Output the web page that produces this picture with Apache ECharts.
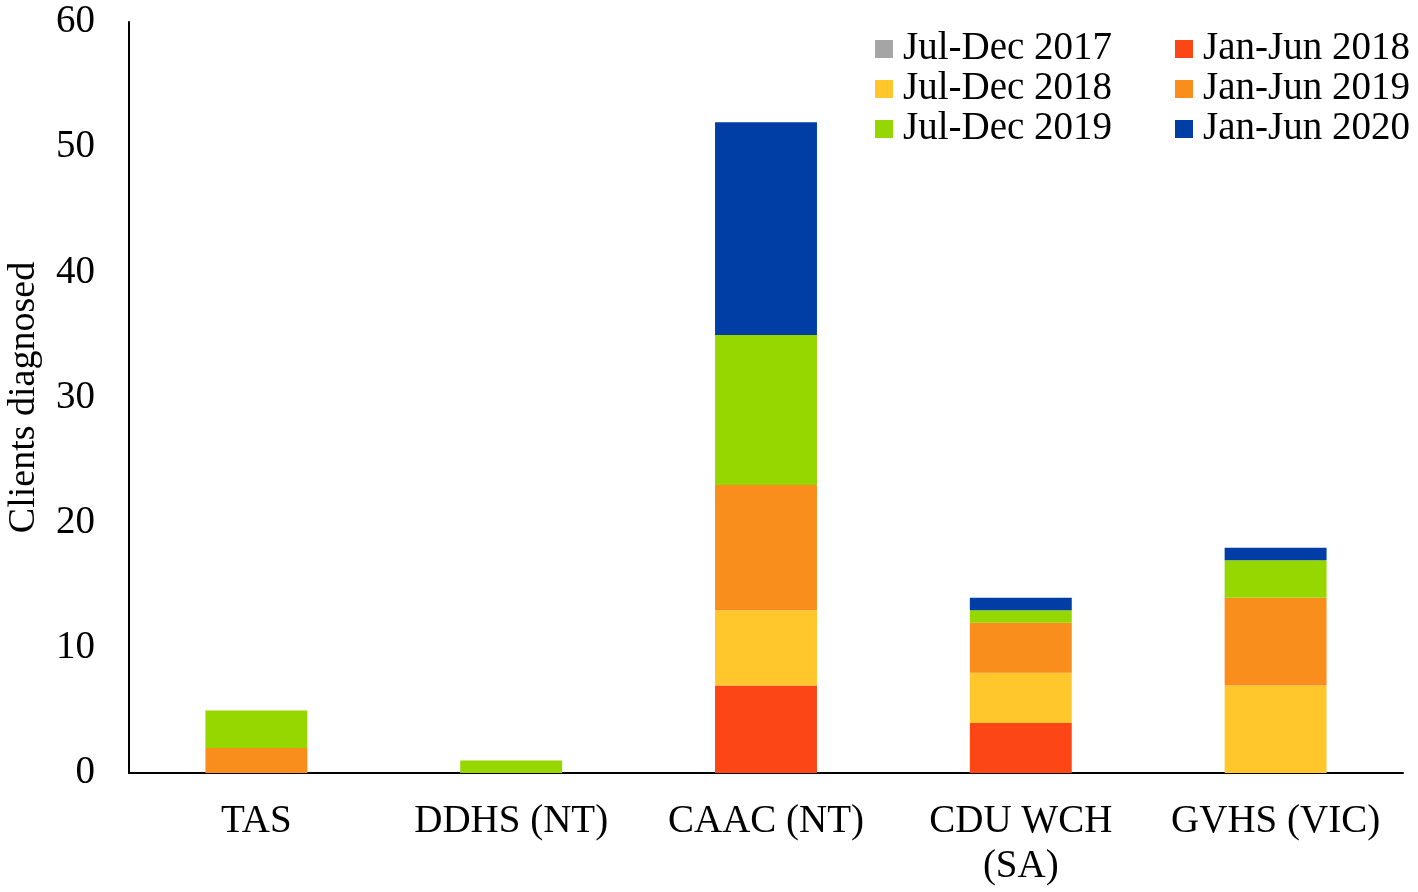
<!DOCTYPE html>
<html>
<head>
<meta charset="utf-8">
<script src="https://cdn.jsdelivr.net/npm/echarts@6/dist/echarts.min.js"></script>
<style>html,body{margin:0;padding:0;background:#fff}#c{width:1418px;height:892px}</style>
</head>
<body>
<div id="c"></div>
<script>
const categories = ['TAS', 'DDHS (NT)', 'CAAC (NT)', 'CDU WCH\n(SA)', 'GVHS (VIC)'];
const seriesNames = ['Jul-Dec 2017', 'Jan-Jun 2018', 'Jul-Dec 2018', 'Jan-Jun 2019', 'Jul-Dec 2019', 'Jan-Jun 2020'];
const julDec2017 = [0, 0, 0, 0, 0];
const janJun2018 = [0, 0, 7, 4, 0];
const julDec2018 = [0, 0, 6, 4, 7];
const janJun2019 = [2, 0, 10, 4, 7];
const julDec2019 = [3, 1, 12, 1, 3];
const janJun2020 = [0, 0, 17, 1, 1];
const yTicks = [0, 10, 20, 30, 40, 50, 60];

const values = [julDec2017, janJun2018, julDec2018, janJun2019, julDec2019, janJun2020];
const colors = ['#A5A5A5', '#FC4616', '#FFC72C', '#F98E1D', '#97D700', '#003DA5'];
const font = '"Liberation Serif", "Times New Roman", serif';

const legendText = { fontFamily: font, fontSize: 39, color: '#000', lineHeight: 40, padding: [0, 0, 0, 5] };

const chart = echarts.init(document.getElementById('c'));
chart.setOption({
  animation: false,
  textStyle: { fontFamily: font },
  grid: { left: 129, right: 15, top: 22, bottom: 119, containLabel: false, outerBoundsMode: 'none' },
  legend: [
    {
      data: [seriesNames[0], seriesNames[2], seriesNames[4]],
      orient: 'vertical', left: 870, top: 24, itemWidth: 18, itemHeight: 18, itemGap: 0,
      icon: 'rect', textStyle: legendText
    },
    {
      data: [seriesNames[1], seriesNames[3], seriesNames[5]],
      orient: 'vertical', left: 1170, top: 24, itemWidth: 18, itemHeight: 18, itemGap: 0,
      icon: 'rect', textStyle: legendText
    }
  ],
  xAxis: {
    type: 'category',
    data: categories,
    axisLine: { lineStyle: { color: '#000', width: 2 } },
    axisTick: { show: false },
    axisLabel: { color: '#000', fontSize: 39, fontFamily: font, margin: 26, lineHeight: 45, interval: 0 }
  },
  yAxis: {
    type: 'value',
    min: 0, max: 60, interval: 10,
    name: 'Clients diagnosed',
    nameLocation: 'middle',
    nameGap: 86,
    nameTextStyle: { color: '#000', fontSize: 38, fontFamily: font },
    axisLine: { show: true, lineStyle: { color: '#000', width: 2 } },
    axisTick: { show: false },
    splitLine: { show: false },
    axisLabel: { color: '#000', fontSize: 39, fontFamily: font, margin: 34,
      formatter: v => yTicks.includes(v) ? String(v) : '' }
  },
  series: seriesNames.map((n, i) => ({
    name: n,
    type: 'bar',
    stack: 'total',
    barWidth: '40%',
    data: values[i],
    itemStyle: { color: colors[i] }
  }))
});
</script>
</body>
</html>
